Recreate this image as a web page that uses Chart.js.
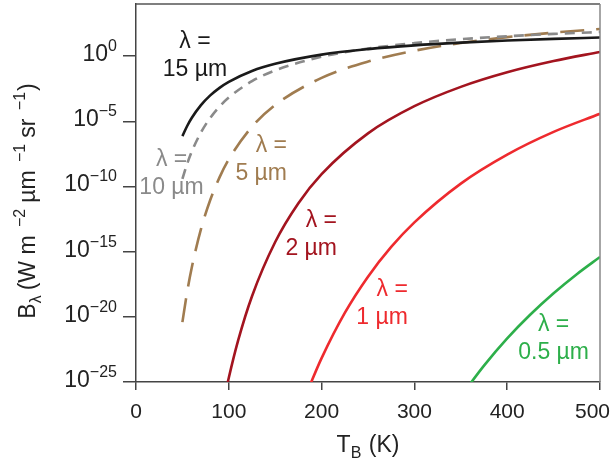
<!DOCTYPE html>
<html>
<head>
<meta charset="utf-8">
<script src="https://cdn.jsdelivr.net/npm/chart.js@4/dist/chart.umd.min.js"></script>
<style>
  html, body { margin: 0; padding: 0; background: #fff; }
  #wrap { width: 613px; height: 460px; }
</style>
</head>
<body>
<div id="wrap"><canvas id="planckChart" width="613" height="460"></canvas></div>
<script>
// Temperatures (K) and spectral radiance B_lambda (W m-2 um-1 sr-1)
const t15 = [50, 55, 60, 70, 80, 90, 100, 125, 150, 200, 250, 300, 350, 400, 450, 500];
const b15 = [7.3e-7, 4.2e-6, 1.8e-5, 1.75e-4, 9.7e-4, 3.7e-3, 1.07e-2, 0.073, 0.26, 1.31, 3.45, 6.7, 10.8, 15.7, 21.1, 27.0];

const t10 = [50, 55, 60, 70, 80, 90, 100, 125, 150, 200, 250, 300, 350, 400, 450, 500];
const b10 = [3.8e-10, 5.2e-9, 4.6e-8, 1.4e-6, 1.84e-5, 1.36e-4, 6.7e-4, 1.19e-2, 0.081, 0.90, 3.8, 9.9, 19.9, 33.6, 50.8, 71];

const t5 = [50, 55, 60, 70, 80, 90, 100, 125, 150, 200, 250, 300, 350, 400, 450, 500];
const b5 = [3.9e-21, 7.2e-19, 5.6e-17, 5.3e-14, 9.1e-12, 5.0e-10, 1.21e-8, 3.8e-6, 1.78e-4, 0.0215, 0.38, 2.6, 10.2, 28.6, 63.8, 121];

const t2 = [95, 100, 110, 125, 150, 175, 200, 250, 300, 350, 400, 450, 500];
const b2 = [4.8e-27, 2.1e-25, 1.47e-22, 3.8e-19, 5.5e-15, 5.2e-12, 8.9e-10, 1.19e-6, 1.44e-4, 4.4e-3, 0.058, 0.42, 2.1];

const t1 = [185, 190, 200, 225, 250, 275, 300, 350, 400, 450, 500];
const b1 = [2.0e-26, 1.55e-25, 6.8e-24, 2.0e-20, 1.21e-17, 2.3e-15, 1.77e-13, 1.67e-10, 2.8e-8, 1.55e-6, 3.8e-5];

const t05 = [355, 375, 400, 425, 450, 475, 500];
const b05 = [2.4e-26, 1.8e-24, 2.2e-22, 1.5e-20, 6.4e-19, 1.86e-17, 3.9e-16];

// axis ticks
const xTicks = [0, 100, 200, 300, 400, 500];
const xTickLabels = ['0', '100', '200', '300', '400', '500'];
const yTicks = [1e-25, 1e-20, 1e-15, 1e-10, 1e-5, 1e0];
const yTickExp = ['\u221225', '\u221220', '\u221215', '\u221210', '\u22125', '0'];

const FONT = 'Arial, "Liberation Sans", Helvetica, sans-serif';

function pts(ts, bs) {
  return ts.map((t, i) => ({ x: t, y: bs[i] }));
}

function series(label, ts, bs, color, dash) {
  return {
    label: label,
    data: pts(ts, bs),
    borderColor: color,
    backgroundColor: 'transparent',
    borderWidth: 2.6,
    borderDash: dash || [],
    pointRadius: 0,
    tension: 0.4,
    cubicInterpolationMode: 'monotone'
  };
}

// curve labels, anchored in data units
const curveLabels = [
  { lines: ['\u03bb =', '15 \u00b5m'], t: 63.5, b: 1.1, color: '#1a1a1a', align: 'center' },
  { lines: ['\u03bb =', '10 \u00b5m'], t: 38.3, b: 9e-10, color: '#8a8a8a', align: 'center' },
  { lines: ['\u03bb =', '5 \u00b5m'], t: 162.7, b: 1.1e-8, color: '#a07c50', align: 'right' },
  { lines: ['\u03bb =', '2 \u00b5m'], t: 216.6, b: 2e-14, color: '#a3141f', align: 'right' },
  { lines: ['\u03bb =', '1 \u00b5m'], t: 293, b: 1e-19, color: '#ee2a2e', align: 'right' },
  { lines: ['\u03bb =', '0.5 \u00b5m'], t: 450, b: 2e-22, color: '#2daf4a', align: 'center' }
];

// draws rich text pieces (size, text, dy) starting at x along baseline 0
function drawPieces(ctx, pieces, x0) {
  let x = x0;
  pieces.forEach(p => {
    ctx.font = p.size + 'px ' + FONT;
    ctx.fillText(p.text, x, p.dy || 0);
    x += ctx.measureText(p.text).width + (p.gap || 0);
  });
}
function piecesWidth(ctx, pieces) {
  let w = 0;
  pieces.forEach(p => {
    ctx.font = p.size + 'px ' + FONT;
    w += ctx.measureText(p.text).width + (p.gap || 0);
  });
  return w;
}

const decorPlugin = {
  id: 'decor',
  afterDraw(chart) {
    const ctx = chart.ctx;
    const area = chart.chartArea;
    const xs = chart.scales.x;
    const ys = chart.scales.y;
    ctx.save();

    // frame top / right
    ctx.lineWidth = 1.5;
    ctx.strokeStyle = '#555';
    ctx.beginPath();
    ctx.moveTo(area.left, area.top);
    ctx.lineTo(area.right, area.top);
    ctx.stroke();
    ctx.strokeStyle = '#888';
    ctx.beginPath();
    ctx.moveTo(area.right, area.top);
    ctx.lineTo(area.right, area.bottom);
    ctx.stroke();

    // y tick labels as 10^n
    ctx.fillStyle = '#222';
    ctx.textBaseline = 'alphabetic';
    ctx.textAlign = 'left';
    yTicks.forEach((v, i) => {
      const py = ys.getPixelForValue(v);
      const pieces = [
        { size: 23, text: '10' },
        { size: 16, text: yTickExp[i], dy: -10 }
      ];
      const w = piecesWidth(ctx, pieces);
      ctx.save();
      ctx.translate(0, py + 5);
      drawPieces(ctx, pieces, area.left - 19 - w);
      ctx.restore();
    });

    // x tick labels
    ctx.font = '21px ' + FONT;
    ctx.textAlign = 'center';
    xTicks.forEach((v, i) => {
      const w = ctx.measureText(xTickLabels[i]).width;
      let px = xs.getPixelForValue(v);
      px = Math.min(px, chart.width - 3 - w / 2);
      ctx.fillText(xTickLabels[i], px, area.bottom + 36);
    });
    ctx.textAlign = 'left';

    // x axis title
    const xt = [
      { size: 23, text: 'T' },
      { size: 16, text: 'B', dy: 6, gap: 1 },
      { size: 23, text: ' (K)' }
    ];
    const xw = piecesWidth(ctx, xt);
    ctx.save();
    ctx.translate((area.left + area.right) / 2 - xw / 2, 452);
    drawPieces(ctx, xt, 0);
    ctx.restore();

    // y axis title
    const yt = [
      { size: 23, text: 'B' },
      { size: 16, text: '\u03bb', dy: 6, gap: 5 },
      { size: 23, text: '(W m ', gap: 2 },
      { size: 16, text: '\u22122', dy: -10, gap: 6 },
      { size: 23, text: '\u00b5m ', gap: 2 },
      { size: 16, text: '\u22121', dy: -10, gap: 6 },
      { size: 23, text: 'sr ', gap: 2 },
      { size: 16, text: '\u22121', dy: -10, gap: 1 },
      { size: 23, text: ')' }
    ];
    const yw = piecesWidth(ctx, yt);
    ctx.save();
    ctx.translate(35, 201);
    ctx.rotate(-Math.PI / 2);
    drawPieces(ctx, yt, -yw / 2);
    ctx.restore();

    // curve labels
    ctx.font = '23px ' + FONT;
    ctx.textBaseline = 'middle';
    curveLabels.forEach(l => {
      const px = xs.getPixelForValue(l.t);
      const py = ys.getPixelForValue(l.b);
      ctx.fillStyle = l.color;
      ctx.textAlign = l.align;
      ctx.fillText(l.lines[0], px, py - 14);
      ctx.fillText(l.lines[1], px, py + 14);
    });

    ctx.restore();
  }
};

const ctx = document.getElementById('planckChart').getContext('2d');

const chart = new Chart(ctx, {
  type: 'line',
  data: {
    datasets: [
      series('15 um', t15, b15, '#1a1a1a'),
      series('10 um', t10, b10, '#8a8a8a', [10, 7]),
      series('5 um', t5, b5, '#a07c50', [24, 12]),
      series('2 um', t2, b2, '#a3141f'),
      series('1 um', t1, b1, '#ee2a2e'),
      series('0.5 um', t05, b05, '#2daf4a')
    ]
  },
  options: {
    responsive: false,
    animation: false,
    devicePixelRatio: 1,
    layout: { padding: { top: 4, right: 13, left: 0, bottom: 0 } },
    plugins: {
      legend: { display: false },
      tooltip: { enabled: false }
    },
    scales: {
      x: {
        type: 'linear',
        min: 0,
        max: 500,
        afterBuildTicks: s => { s.ticks = xTicks.map(v => ({ value: v })); },
        afterFit: s => { s.height = 78; s.paddingLeft = 0; s.paddingRight = 0; },
        ticks: { display: false },
        grid: { drawOnChartArea: false, drawTicks: true, tickLength: 8, color: '#444', lineWidth: 1.5 },
        border: { display: true, color: '#444', width: 1.5 }
      },
      y: {
        type: 'logarithmic',
        min: 1e-25,
        max: 1e4,
        afterBuildTicks: s => { s.ticks = yTicks.map(v => ({ value: v })); },
        afterFit: s => { s.width = 136; s.paddingTop = 0; s.paddingBottom = 0; },
        ticks: { display: false },
        grid: { drawOnChartArea: false, drawTicks: true, tickLength: 13, color: '#444', lineWidth: 1.5 },
        border: { display: true, color: '#444', width: 1.5 }
      }
    }
  },
  plugins: [decorPlugin]
});
</script>
</body>
</html>
